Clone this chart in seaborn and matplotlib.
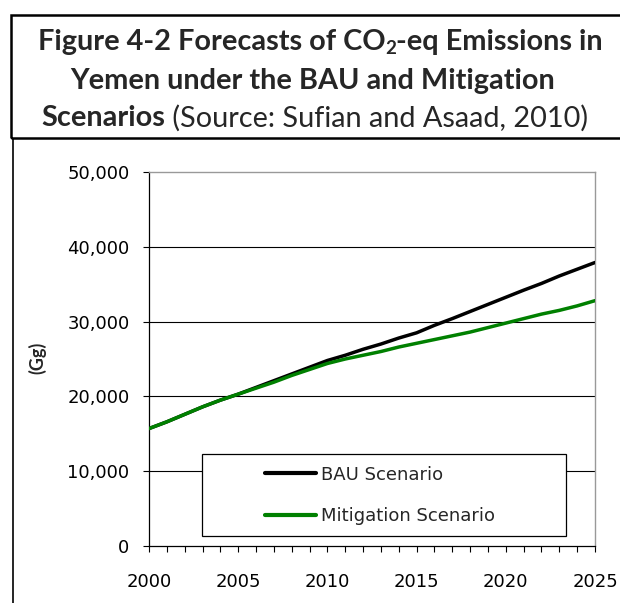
import numpy as np
import pandas as pd
import matplotlib
matplotlib.use("Agg")
import matplotlib.pyplot as plt
import seaborn as sns
from matplotlib.patches import Rectangle
from matplotlib.lines import Line2D
from matplotlib.ticker import MultipleLocator, FuncFormatter
from matplotlib.transforms import IdentityTransform

# ---------------- data ----------------
years = list(range(2000, 2026))
bau = [15700, 16600, 17600, 18600, 19500, 20300, 21200, 22100, 23000, 23900,
       24800, 25500, 26300, 27000, 27800, 28500, 29500, 30400, 31350, 32300,
       33250, 34200, 35100, 36100, 37000, 37900]
mitigation = [15700, 16600, 17600, 18600, 19500, 20300, 21100, 21900, 22800, 23600,
              24400, 25000, 25500, 26000, 26600, 27100, 27600, 28100, 28600, 29200,
              29800, 30400, 31000, 31500, 32100, 32800]
series_names = ["BAU Scenario", "Mitigation Scenario"]
series_colors = ["#000000", "#008000"]
y_ticks = [0, 10000, 20000, 30000, 40000, 50000]
x_ticks = [2000, 2005, 2010, 2015, 2020, 2025]
y_label = "(Gg)"
title_line1 = ["Figure 4-2 Forecasts of CO", "2", "-eq Emissions in"]
title_line2 = "Yemen under the BAU and Mitigation"
title_line3 = ["Scenarios", " (Source: Sufian and Asaad, 2010)"]

df = pd.DataFrame({
    "year": years * 2,
    "value": bau + mitigation,
    "scenario": [series_names[0]] * len(years) + [series_names[1]] * len(years),
})

sns.set_theme(style="white")
plt.rcParams["font.family"] = ["DejaVu Sans"]

W, H = 620, 603
fig = plt.figure(figsize=(W / 100, H / 100), dpi=100)
fig.patch.set_facecolor("white")

def fx(px):
    return px / W

def fy(py):
    return 1 - py / H

ax = fig.add_axes([fx(149), fy(546), fx(595) - fx(149), fy(172) - fy(546)])

sns.lineplot(data=df, x="year", y="value", hue="scenario",
             palette=dict(zip(series_names, series_colors)),
             linewidth=2.5, ax=ax, legend=True, zorder=3)

ax.set_xlim(2000, 2025)
ax.set_ylim(0, 50000)
ax.set_xlabel("")
ax.set_ylabel("")
ax.set_yticks(y_ticks)
ax.set_xticks(x_ticks)
ax.xaxis.set_minor_locator(MultipleLocator(1))
ax.yaxis.set_major_formatter(FuncFormatter(lambda v, p: f"{int(v):,}"))
ax.tick_params(axis="both", which="both", direction="out", length=4.5, width=0.8,
               color="black", labelsize=13, labelcolor="black")
ax.tick_params(axis="y", pad=9.5)
ax.tick_params(axis="x", pad=15)
ax.tick_params(axis="x", which="minor", bottom=True)
ax.tick_params(axis="x", which="major", bottom=True)
ax.tick_params(axis="y", left=True)

ax.grid(False)
for yv in y_ticks[1:-1]:
    ax.axhline(yv, color="black", lw=0.8, zorder=1)

for side in ["left", "bottom"]:
    ax.spines[side].set_color("black")
    ax.spines[side].set_linewidth(0.9)
for side in ["top", "right"]:
    ax.spines[side].set_color("#999999")
    ax.spines[side].set_linewidth(1.0)

# legend frame
ax.add_patch(Rectangle((fx(202), fy(536)), fx(566) - fx(202), fy(454) - fy(536),
                       transform=fig.transFigure, facecolor="white",
                       edgecolor="black", lw=0.9, zorder=5, clip_on=False))
handles, labels = ax.get_legend_handles_labels()
leg = ax.legend(handles, labels, loc="center left",
                bbox_to_anchor=(fx(265), fy(495.5)), bbox_transform=fig.transFigure,
                frameon=False, fontsize=13, handlelength=2.8, handletextpad=0.3,
                labelspacing=1.3, borderpad=0, borderaxespad=0)
leg.set_zorder(6)
for h in leg.legend_handles:
    h.set_linewidth(3)

# y label
fig.text(fx(37), fy(358), y_label, rotation=90, ha="center", va="center",
         fontsize=13, fontweight="bold", family=["Lato", "DejaVu Sans"])

# title box and chart frame
fig.add_artist(Rectangle((fx(11), fy(138)), fx(640) - fx(11), fy(15) - fy(138),
                         transform=fig.transFigure, facecolor="none",
                         edgecolor="black", lw=1.8, clip_on=False))
fig.add_artist(Line2D([fx(12.7), fx(12.7)], [fy(139), fy(610)],
                      transform=fig.transFigure, color="black", lw=1.2))

# title text
fig.canvas.draw()
renderer = fig.canvas.get_renderer()
fam = ["Lato", "DejaVu Sans"]

def measure(s, size, weight):
    t = fig.text(0, 0, s, fontsize=size, fontweight=weight, family=fam,
                 transform=IdentityTransform())
    w = t.get_window_extent(renderer).width
    t.remove()
    return w

def draw_pieces(pieces, cx, baseline_py, size):
    widths = [measure(s, size * sc, wt) for s, wt, sc, dy in pieces]
    x = cx - sum(widths) / 2
    for (s, wt, sc, dy), w in zip(pieces, widths):
        fig.text(x, H - baseline_py - dy, s, fontsize=size * sc, fontweight=wt,
                 family=fam, transform=IdentityTransform(), ha="left", va="baseline")
        x += w

base = 20
p1 = [(title_line1[0], "bold", 1.0, 0), (title_line1[1], "bold", 0.65, 4),
      (title_line1[2], "bold", 1.0, 0)]
w1 = sum(measure(s, base * sc, wt) for s, wt, sc, dy in p1)
tsize = base * 565 / w1
p1 = [(title_line1[0], "bold", 1.0, 0), (title_line1[1], "bold", 0.65, tsize * 0.2),
      (title_line1[2], "bold", 1.0, 0)]
draw_pieces(p1, 320.5, 50, tsize)
draw_pieces([(title_line2, "bold", 1.0, 0)], 312.5, 89.5, tsize)
draw_pieces([(title_line3[0], "bold", 1.0, 0), (title_line3[1], "normal", 1.0, 0)],
            315, 126.5, tsize)

fig.savefig("out.png", dpi=100)
